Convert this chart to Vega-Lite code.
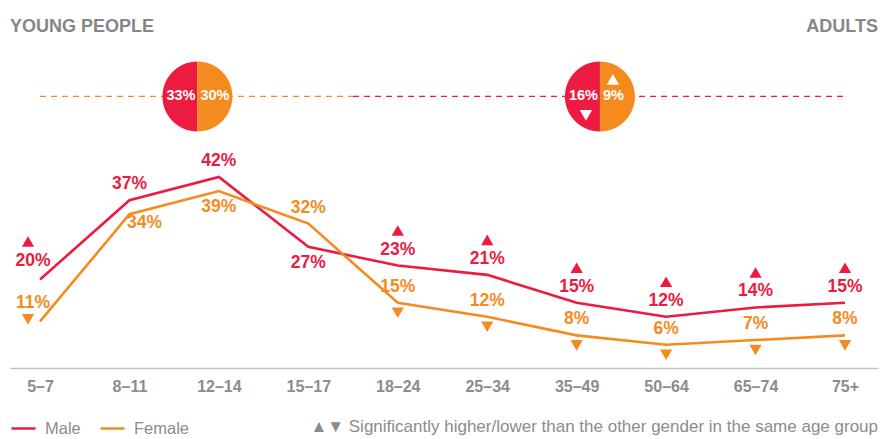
{
  "$schema": "https://vega.github.io/schema/vega-lite/v6.json",
  "width": 868,
  "height": 368,
  "autosize": {"type": "none"},
  "padding": {"left": 10, "right": 17, "top": 0, "bottom": 71},
  "background": "white",
  "config": {
    "view": {"stroke": null},
    "font": "Liberation Sans, Arial, sans-serif"
  },
  "datasets": {
    "rates": [
      {"i": 0, "age": "5–7", "gender": "Male", "value": 20, "label": "20%", "sig": "higher"},
      {"i": 0, "age": "5–7", "gender": "Female", "value": 11, "label": "11%", "sig": "lower"},
      {"i": 1, "age": "8–11", "gender": "Male", "value": 37, "label": "37%", "sig": ""},
      {"i": 1, "age": "8–11", "gender": "Female", "value": 34, "label": "34%", "sig": ""},
      {"i": 2, "age": "12–14", "gender": "Male", "value": 42, "label": "42%", "sig": ""},
      {"i": 2, "age": "12–14", "gender": "Female", "value": 39, "label": "39%", "sig": ""},
      {"i": 3, "age": "15–17", "gender": "Male", "value": 27, "label": "27%", "sig": ""},
      {"i": 3, "age": "15–17", "gender": "Female", "value": 32, "label": "32%", "sig": ""},
      {"i": 4, "age": "18–24", "gender": "Male", "value": 23, "label": "23%", "sig": "higher"},
      {"i": 4, "age": "18–24", "gender": "Female", "value": 15, "label": "15%", "sig": "lower"},
      {"i": 5, "age": "25–34", "gender": "Male", "value": 21, "label": "21%", "sig": "higher"},
      {"i": 5, "age": "25–34", "gender": "Female", "value": 12, "label": "12%", "sig": "lower"},
      {"i": 6, "age": "35–49", "gender": "Male", "value": 15, "label": "15%", "sig": "higher"},
      {"i": 6, "age": "35–49", "gender": "Female", "value": 8, "label": "8%", "sig": "lower"},
      {"i": 7, "age": "50–64", "gender": "Male", "value": 12, "label": "12%", "sig": "higher"},
      {"i": 7, "age": "50–64", "gender": "Female", "value": 6, "label": "6%", "sig": "lower"},
      {"i": 8, "age": "65–74", "gender": "Male", "value": 14, "label": "14%", "sig": "higher"},
      {"i": 8, "age": "65–74", "gender": "Female", "value": 7, "label": "7%", "sig": "lower"},
      {"i": 9, "age": "75+", "gender": "Male", "value": 15, "label": "15%", "sig": "higher"},
      {"i": 9, "age": "75+", "gender": "Female", "value": 8, "label": "8%", "sig": "lower"}
    ],
    "summary": [
      {"group": "Young people", "cx": 1.76, "male": "33%", "female": "30%", "maleSig": "", "femaleSig": ""},
      {"group": "Adults", "cx": 6.26, "male": "16%", "female": "9%", "maleSig": "lower", "femaleSig": "higher"}
    ],
    "spans": [
      {"group": "Young people", "start": 0, "end": 3.5},
      {"group": "Adults", "start": 3.5, "end": 9}
    ]
  },
  "layer": [
    {
      "data": {"name": "spans"},
      "mark": {"type": "rule", "strokeDash": [6, 5], "strokeWidth": 1.3},
      "encoding": {
        "x": {"field": "start", "type": "quantitative", "title": null, "scale": {"domain": [-0.3354, 9.369], "nice": false, "zero": false}},
        "x2": {"field": "end"},
        "y": {"datum": 59.3, "type": "quantitative", "title": null, "scale": {"domain": [1, 80], "nice": false, "zero": false}, "axis": null},
        "stroke": {"condition": {"test": "datum.group === 'Young people'", "value": "#F58B1F"}, "value": "#EC1B3F"}
      }
    },
    {
      "data": {"name": "rates"},
      "mark": {"type": "line", "strokeWidth": 2.6},
      "encoding": {
        "x": {
          "field": "i", "type": "quantitative", "title": null,
          "scale": {"domain": [-0.3354, 9.369], "nice": false, "zero": false},
          "axis": {
            "values": [0, 1, 2, 3, 4, 5, 6, 7, 8, 9],
            "labelExpr": "['5–7','8–11','12–14','15–17','18–24','25–34','35–49','50–64','65–74','75+'][datum.value]",
            "grid": false, "ticks": false, "tickSize": 0,
            "domainColor": "#c2c2c2", "domainWidth": 1.6,
            "labelPadding": 10, "labelFontSize": 16, "labelFontWeight": "bold",
            "labelColor": "#8b8c8e", "labelFont": "Liberation Sans, Arial, sans-serif",
            "labelFlush": false, "labelOverlap": false
          }
        },
        "y": {"field": "value", "type": "quantitative", "title": null, "scale": {"domain": [1, 80], "nice": false, "zero": false}, "axis": null},
        "color": {
          "field": "gender", "type": "nominal",
          "scale": {"domain": ["Male", "Female"], "range": ["#EC1B3F", "#F58B1F"]},
          "legend": {
            "orient": "none", "legendX": 0, "legendY": 415, "direction": "horizontal",
            "title": null, "symbolType": "stroke", "symbolSize": 576, "symbolStrokeWidth": 2.5,
            "labelFontSize": 16.5, "labelColor": "#8b8c8e", "labelOffset": 8, "columnPadding": 14,
            "labelFont": "Liberation Sans, Arial, sans-serif"
          }
        },
        "order": {"field": "i"}
      }
    },
    {
      "data": {"name": "rates"},
      "transform": [{"filter": "datum.i === 0"}],
      "mark": {"type": "text", "fontSize": 17.5, "fontWeight": "bold", "dx": -7, "dy": -18, "baseline": "middle"},
      "encoding": {
        "x": {"field": "i", "type": "quantitative", "title": null, "scale": {"domain": [-0.3354, 9.369], "nice": false, "zero": false}},
        "y": {"field": "value", "type": "quantitative", "title": null, "scale": {"domain": [1, 80], "nice": false, "zero": false}, "axis": null},
        "text": {"field": "label"},
        "color": {"condition": {"test": "datum.gender === 'Male'", "value": "#EC1B3F"}, "value": "#F58B1F"}
      }
    },
    {
      "data": {"name": "rates"},
      "transform": [{"filter": "datum.i > 0 && !((datum.gender === 'Male' && datum.i === 3) || (datum.gender === 'Female' && (datum.i === 1 || datum.i === 2)))"}],
      "mark": {"type": "text", "fontSize": 17.5, "fontWeight": "bold", "dy": -16, "baseline": "middle"},
      "encoding": {
        "x": {"field": "i", "type": "quantitative", "title": null, "scale": {"domain": [-0.3354, 9.369], "nice": false, "zero": false}},
        "y": {"field": "value", "type": "quantitative", "title": null, "scale": {"domain": [1, 80], "nice": false, "zero": false}, "axis": null},
        "text": {"field": "label"},
        "color": {"condition": {"test": "datum.gender === 'Male'", "value": "#EC1B3F"}, "value": "#F58B1F"}
      }
    },
    {
      "data": {"name": "rates"},
      "transform": [{"filter": "(datum.gender === 'Male' && datum.i === 3) || (datum.gender === 'Female' && datum.i === 2)"}],
      "mark": {"type": "text", "fontSize": 17.5, "fontWeight": "bold", "dy": 16, "baseline": "middle"},
      "encoding": {
        "x": {"field": "i", "type": "quantitative", "title": null, "scale": {"domain": [-0.3354, 9.369], "nice": false, "zero": false}},
        "y": {"field": "value", "type": "quantitative", "title": null, "scale": {"domain": [1, 80], "nice": false, "zero": false}, "axis": null},
        "text": {"field": "label"},
        "color": {"condition": {"test": "datum.gender === 'Male'", "value": "#EC1B3F"}, "value": "#F58B1F"}
      }
    },
    {
      "data": {"name": "rates"},
      "transform": [{"filter": "datum.gender === 'Female' && datum.i === 1"}],
      "mark": {"type": "text", "fontSize": 17.5, "fontWeight": "bold", "dx": 15, "dy": 9, "baseline": "middle"},
      "encoding": {
        "x": {"field": "i", "type": "quantitative", "title": null, "scale": {"domain": [-0.3354, 9.369], "nice": false, "zero": false}},
        "y": {"field": "value", "type": "quantitative", "title": null, "scale": {"domain": [1, 80], "nice": false, "zero": false}, "axis": null},
        "text": {"field": "label"},
        "color": {"value": "#F58B1F"}
      }
    },
    {
      "data": {"name": "rates"},
      "transform": [{"filter": "datum.sig === 'higher' && datum.i > 0"}],
      "mark": {"type": "point", "shape": "triangle-up", "filled": true, "size": 150, "opacity": 1, "color": "#EC1B3F", "yOffset": -35},
      "encoding": {
        "x": {"field": "i", "type": "quantitative", "title": null, "scale": {"domain": [-0.3354, 9.369], "nice": false, "zero": false}},
        "y": {"field": "value", "type": "quantitative", "title": null, "scale": {"domain": [1, 80], "nice": false, "zero": false}, "axis": null}
      }
    },
    {
      "data": {"name": "rates"},
      "transform": [{"filter": "datum.sig === 'higher' && datum.i === 0"}],
      "mark": {"type": "point", "shape": "triangle-up", "filled": true, "size": 150, "opacity": 1, "color": "#EC1B3F", "xOffset": -12, "yOffset": -38},
      "encoding": {
        "x": {"field": "i", "type": "quantitative", "title": null, "scale": {"domain": [-0.3354, 9.369], "nice": false, "zero": false}},
        "y": {"field": "value", "type": "quantitative", "title": null, "scale": {"domain": [1, 80], "nice": false, "zero": false}, "axis": null}
      }
    },
    {
      "data": {"name": "rates"},
      "transform": [{"filter": "datum.sig === 'lower' && datum.i > 0"}],
      "mark": {"type": "point", "shape": "triangle-down", "filled": true, "size": 150, "opacity": 1, "color": "#F58B1F", "yOffset": 10},
      "encoding": {
        "x": {"field": "i", "type": "quantitative", "title": null, "scale": {"domain": [-0.3354, 9.369], "nice": false, "zero": false}},
        "y": {"field": "value", "type": "quantitative", "title": null, "scale": {"domain": [1, 80], "nice": false, "zero": false}, "axis": null}
      }
    },
    {
      "data": {"name": "rates"},
      "transform": [{"filter": "datum.sig === 'lower' && datum.i === 0"}],
      "mark": {"type": "point", "shape": "triangle-down", "filled": true, "size": 150, "opacity": 1, "color": "#F58B1F", "xOffset": -12, "yOffset": -2},
      "encoding": {
        "x": {"field": "i", "type": "quantitative", "title": null, "scale": {"domain": [-0.3354, 9.369], "nice": false, "zero": false}},
        "y": {"field": "value", "type": "quantitative", "title": null, "scale": {"domain": [1, 80], "nice": false, "zero": false}, "axis": null}
      }
    },
    {
      "data": {"name": "summary"},
      "mark": {"type": "point", "shape": "M0,-1A1,1,0,0,0,0,1Z", "filled": true, "size": 4900, "opacity": 1, "color": "#EC1B3F", "strokeWidth": 0},
      "encoding": {
        "x": {"field": "cx", "type": "quantitative", "title": null, "scale": {"domain": [-0.3354, 9.369], "nice": false, "zero": false}},
        "y": {"datum": 59.3, "type": "quantitative", "title": null, "scale": {"domain": [1, 80], "nice": false, "zero": false}, "axis": null}
      }
    },
    {
      "data": {"name": "summary"},
      "mark": {"type": "point", "shape": "M0,-1A1,1,0,0,1,0,1Z", "filled": true, "size": 4900, "opacity": 1, "color": "#F58B1F", "strokeWidth": 0},
      "encoding": {
        "x": {"field": "cx", "type": "quantitative", "title": null, "scale": {"domain": [-0.3354, 9.369], "nice": false, "zero": false}},
        "y": {"datum": 59.3, "type": "quantitative", "title": null, "scale": {"domain": [1, 80], "nice": false, "zero": false}, "axis": null}
      }
    },
    {
      "data": {"name": "summary"},
      "mark": {"type": "text", "fontSize": 14.5, "fontWeight": "bold", "color": "white", "align": "right", "dx": -2, "baseline": "middle"},
      "encoding": {
        "x": {"field": "cx", "type": "quantitative", "title": null, "scale": {"domain": [-0.3354, 9.369], "nice": false, "zero": false}},
        "y": {"datum": 59.3, "type": "quantitative", "title": null, "scale": {"domain": [1, 80], "nice": false, "zero": false}, "axis": null},
        "text": {"field": "male"}
      }
    },
    {
      "data": {"name": "summary"},
      "mark": {"type": "text", "fontSize": 14.5, "fontWeight": "bold", "color": "white", "align": "left", "dx": 3, "baseline": "middle"},
      "encoding": {
        "x": {"field": "cx", "type": "quantitative", "title": null, "scale": {"domain": [-0.3354, 9.369], "nice": false, "zero": false}},
        "y": {"datum": 59.3, "type": "quantitative", "title": null, "scale": {"domain": [1, 80], "nice": false, "zero": false}, "axis": null},
        "text": {"field": "female"}
      }
    },
    {
      "data": {"name": "summary"},
      "transform": [{"filter": "datum.maleSig === 'lower'"}],
      "mark": {"type": "point", "shape": "triangle-down", "filled": true, "size": 150, "opacity": 1, "color": "white", "xOffset": -14, "yOffset": 19},
      "encoding": {
        "x": {"field": "cx", "type": "quantitative", "title": null, "scale": {"domain": [-0.3354, 9.369], "nice": false, "zero": false}},
        "y": {"datum": 59.3, "type": "quantitative", "title": null, "scale": {"domain": [1, 80], "nice": false, "zero": false}, "axis": null}
      }
    },
    {
      "data": {"name": "summary"},
      "transform": [{"filter": "datum.femaleSig === 'higher'"}],
      "mark": {"type": "point", "shape": "triangle-up", "filled": true, "size": 150, "opacity": 1, "color": "white", "xOffset": 13, "yOffset": -17},
      "encoding": {
        "x": {"field": "cx", "type": "quantitative", "title": null, "scale": {"domain": [-0.3354, 9.369], "nice": false, "zero": false}},
        "y": {"datum": 59.3, "type": "quantitative", "title": null, "scale": {"domain": [1, 80], "nice": false, "zero": false}, "axis": null}
      }
    },
    {
      "data": {"values": [{}]},
      "mark": {"type": "text", "text": "YOUNG PEOPLE", "fontSize": 18, "fontWeight": "bold", "color": "#858689", "align": "left", "baseline": "alphabetic"},
      "encoding": {
        "x": {"datum": -0.3354, "type": "quantitative", "title": null, "scale": {"domain": [-0.3354, 9.369], "nice": false, "zero": false}},
        "y": {"datum": 73.1, "type": "quantitative", "title": null, "scale": {"domain": [1, 80], "nice": false, "zero": false}, "axis": null}
      }
    },
    {
      "data": {"values": [{}]},
      "mark": {"type": "text", "text": "ADULTS", "fontSize": 18, "fontWeight": "bold", "color": "#858689", "align": "right", "baseline": "alphabetic"},
      "encoding": {
        "x": {"datum": 9.369, "type": "quantitative", "title": null, "scale": {"domain": [-0.3354, 9.369], "nice": false, "zero": false}},
        "y": {"datum": 73.1, "type": "quantitative", "title": null, "scale": {"domain": [1, 80], "nice": false, "zero": false}, "axis": null}
      }
    },
    {
      "data": {"values": [{}]},
      "mark": {"type": "text", "text": "▲▼ Significantly higher/lower than the other gender in the same age group", "fontSize": 17, "color": "#8b8c8e", "align": "right", "baseline": "middle"},
      "encoding": {
        "x": {"datum": 9.369, "type": "quantitative", "title": null, "scale": {"domain": [-0.3354, 9.369], "nice": false, "zero": false}},
        "y": {"datum": -11.7, "type": "quantitative", "title": null, "scale": {"domain": [1, 80], "nice": false, "zero": false}, "axis": null}
      }
    }
  ]
}
